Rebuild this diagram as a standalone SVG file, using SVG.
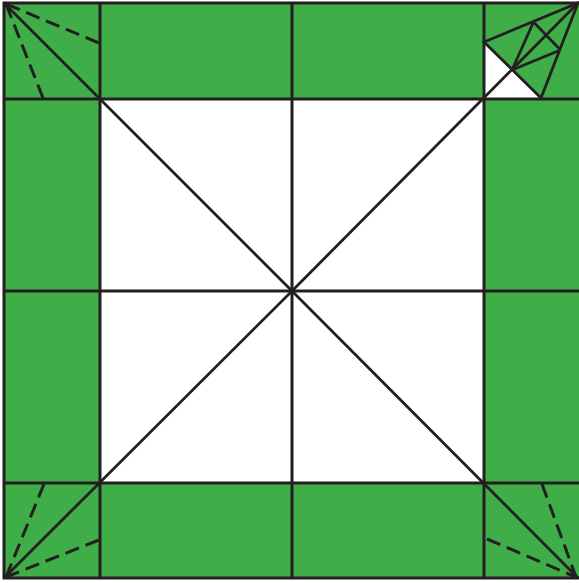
<svg xmlns="http://www.w3.org/2000/svg" width="579" height="583" viewBox="0 0 579 583">
<style>
.l{stroke:#231f20;stroke-width:3;fill:none}
.m{stroke:#231f20;stroke-width:2.8;fill:none}
.d{stroke:#231f20;stroke-width:3;fill:none;stroke-dasharray:14.5 7}
</style>
<rect width="579" height="583" fill="#fff"/>
<g id="border-fill">
<path fill="#3fae49" fill-rule="evenodd" d="M4 3H579V578H4ZM100 99V483H484V99Z"/>
<path fill="#fff" d="M484 42L541 98H484Z"/>
</g>
<g id="connectors">
<path class="l" d="M579 3H4V578H579"/>
<path class="l" d="M100 3V578M484 3V578M292 3V578M4 99H579M4 483H579M4 291H579"/>
<path class="m" d="M4 3L292 291M578 3L292 291M4 578L292 291M578 578L292 291"/>
<path class="m" d="M484 42L578 3L541 98ZM512 70L533.5 22M512 70L560.5 50M533.5 22L560.5 50"/>
<path class="d" d="M99 43L6 4M43 98L6 4"/>
<path class="d" d="M99 540L6 577M44 484L6 577"/>
<path class="d" d="M487 539L576 577M542 484L576 577"/>
</g>
</svg>
